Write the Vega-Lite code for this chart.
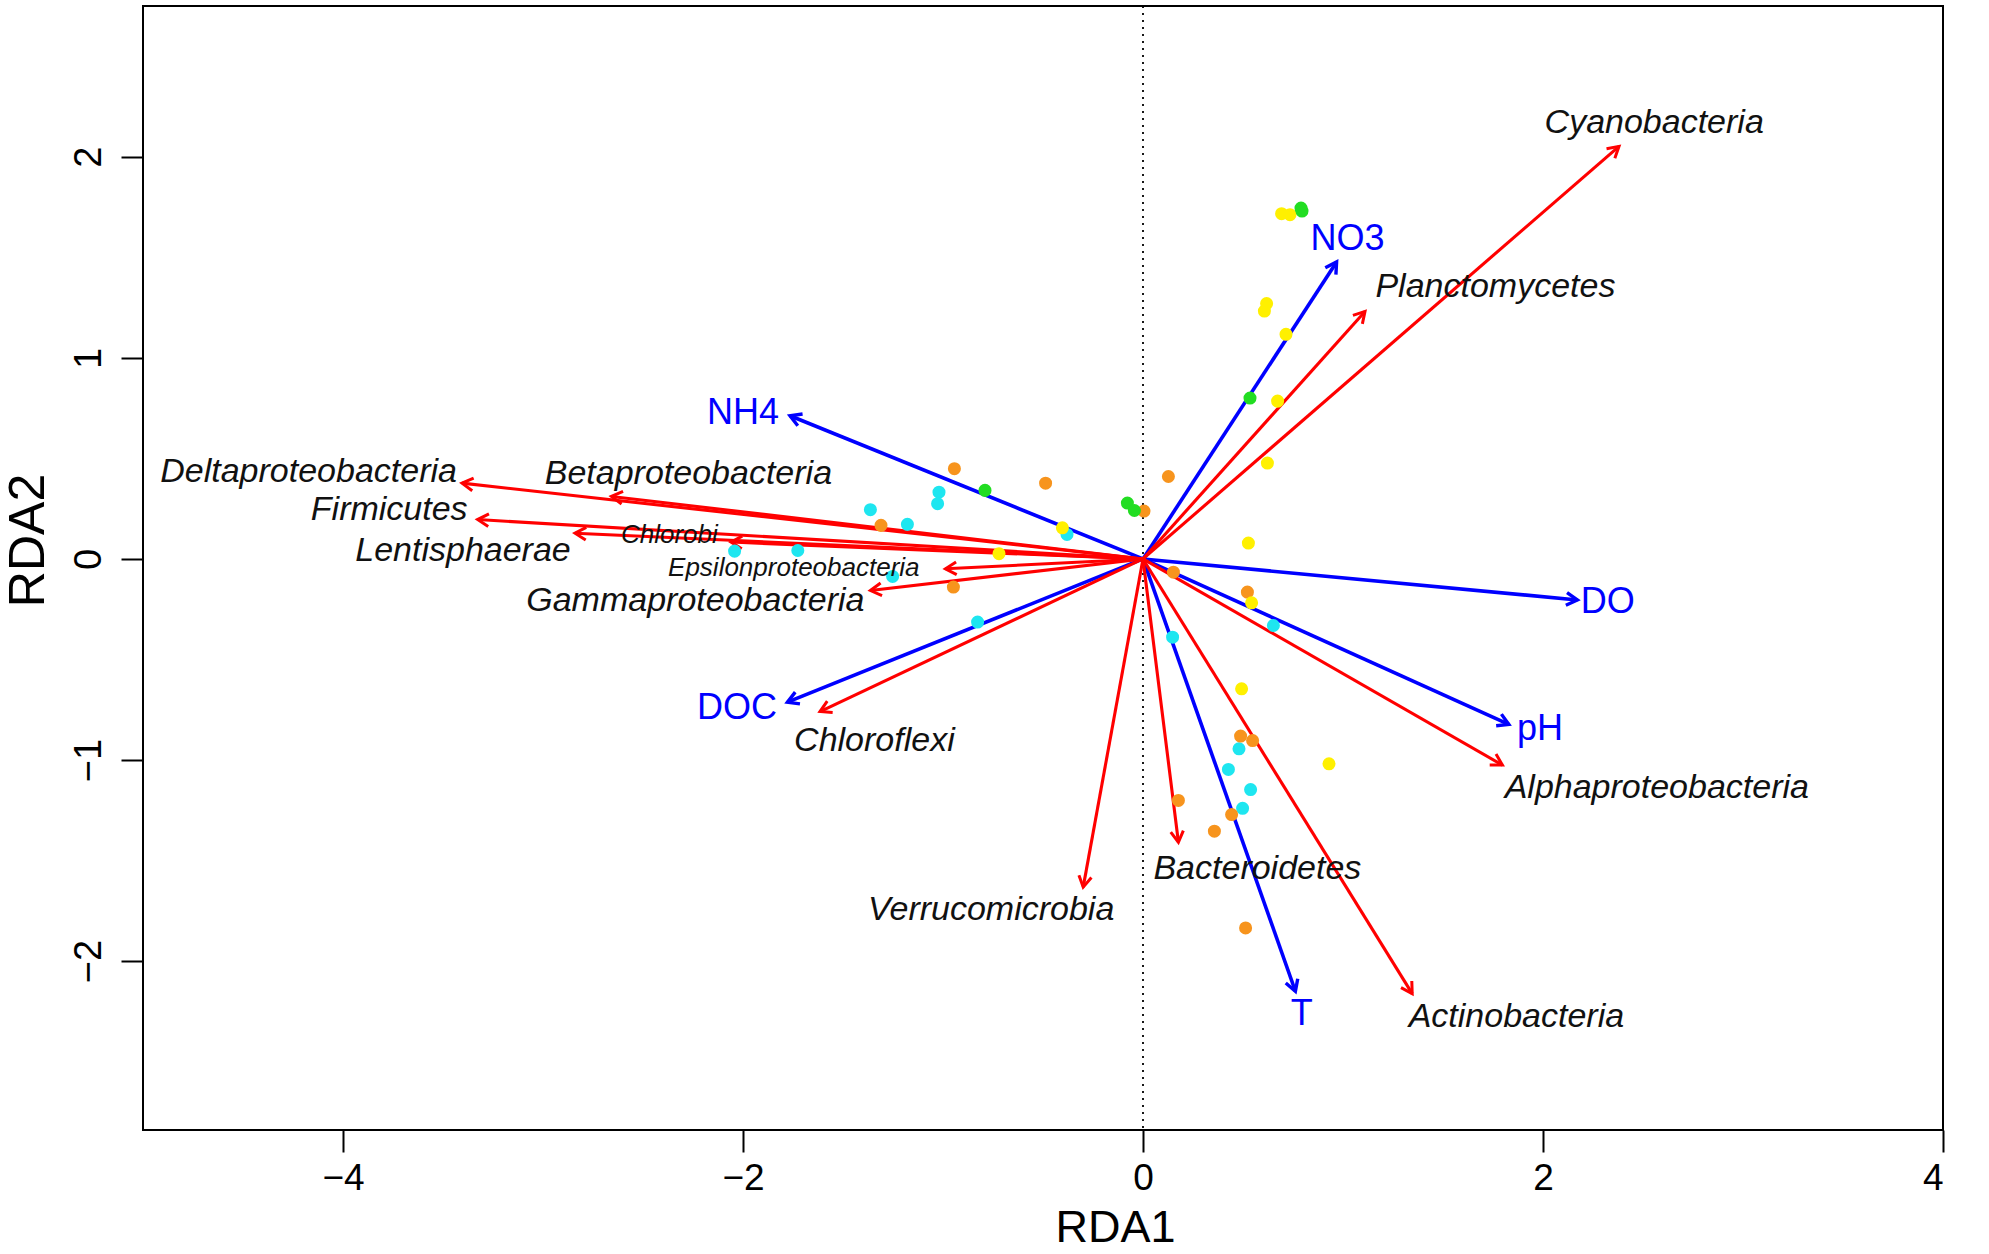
{
  "$schema": "https://vega.github.io/schema/vega-lite/v6.json",
  "width": 1800,
  "height": 1124,
  "autosize": {"type": "none"},
  "padding": {"left": 143, "top": 6, "right": 46, "bottom": 124},
  "background": "white",
  "config": {
    "view": {"stroke": "black", "strokeWidth": 2},
    "font": "Liberation Sans",
    "text": {"font": "Liberation Sans"},
    "axisX": {
      "grid": false, "domain": false,
      "tickSize": 22, "tickWidth": 2, "tickColor": "black",
      "labelFontSize": 37, "labelColor": "black", "labelPadding": 8, "labelFont": "Liberation Sans",
      "titleFontSize": 45, "titleFontWeight": "normal", "titleColor": "black", "titleFont": "Liberation Sans",
      "titleX": 972, "titleY": 111, "titleAlign": "center", "titleBaseline": "alphabetic"
    },
    "axisY": {
      "grid": false, "domain": false,
      "tickSize": 22, "tickWidth": 2, "tickColor": "black",
      "labelAngle": -90, "labelAlign": "center", "labelBaseline": "bottom",
      "labelFontSize": 38, "labelColor": "black", "labelPadding": 13, "labelFont": "Liberation Sans",
      "titleFontSize": 50, "titleFontWeight": "normal", "titleColor": "black", "titleFont": "Liberation Sans",
      "titlePadding": 17, "titleY": 534, "titleAlign": "center"
    }
  },
  "datasets": {
    "arrows": [
      {"name": "NH4", "type": "env", "x": -1.765, "y": 0.712, "lx": -2.0, "ly": 0.725},
      {"name": "DOC", "type": "env", "x": -1.778, "y": -0.712, "lx": -2.03, "ly": -0.741},
      {"name": "NO3", "type": "env", "x": 0.968, "y": 1.477, "lx": 1.022, "ly": 1.59},
      {"name": "DO", "type": "env", "x": 2.172, "y": -0.204, "lx": 2.324, "ly": -0.216},
      {"name": "pH", "type": "env", "x": 1.829, "y": -0.823, "lx": 1.985, "ly": -0.845},
      {"name": "T", "type": "env", "x": 0.762, "y": -2.15, "lx": 0.794, "ly": -2.264},
      {"name": "Cyanobacteria", "type": "taxon", "x": 2.38, "y": 2.052, "lx": 2.556, "ly": 2.166},
      {"name": "Planctomycetes", "type": "taxon", "x": 1.11, "y": 1.231, "lx": 1.762, "ly": 1.351},
      {"name": "Alphaproteobacteria", "type": "taxon", "x": 1.797, "y": -1.025, "lx": 2.569, "ly": -1.139},
      {"name": "Actinobacteria", "type": "taxon", "x": 1.346, "y": -2.162, "lx": 1.867, "ly": -2.276},
      {"name": "Bacteroidetes", "type": "taxon", "x": 0.177, "y": -1.409, "lx": 0.572, "ly": -1.543},
      {"name": "Verrucomicrobia", "type": "taxon", "x": -0.299, "y": -1.632, "lx": -0.759, "ly": -1.745},
      {"name": "Chloroflexi", "type": "taxon", "x": -1.615, "y": -0.759, "lx": -1.343, "ly": -0.905},
      {"name": "Gammaproteobacteria", "type": "taxon", "x": -1.363, "y": -0.157, "lx": -2.238, "ly": -0.21},
      {"name": "Epsilonproteobacteria", "type": "taxon", "x": -0.988, "y": -0.049, "lx": -1.746, "ly": -0.046},
      {"name": "Chlorobi", "type": "taxon", "x": -2.06, "y": 0.084, "lx": -2.368, "ly": 0.118},
      {"name": "Lentisphaerae", "type": "taxon", "x": -2.84, "y": 0.128, "lx": -3.4, "ly": 0.042},
      {"name": "Firmicutes", "type": "taxon", "x": -3.327, "y": 0.196, "lx": -3.769, "ly": 0.245},
      {"name": "Betaproteobacteria", "type": "taxon", "x": -2.658, "y": 0.311, "lx": -2.273, "ly": 0.422},
      {"name": "Deltaproteobacteria", "type": "taxon", "x": -3.405, "y": 0.377, "lx": -4.172, "ly": 0.434}
    ],
    "sites": [
      {"g": "cyan", "x": -2.042, "y": 0.039},
      {"g": "cyan", "x": -1.726, "y": 0.042},
      {"g": "cyan", "x": -1.363, "y": 0.245},
      {"g": "cyan", "x": -1.02, "y": 0.332},
      {"g": "cyan", "x": -1.027, "y": 0.275},
      {"g": "cyan", "x": -1.178, "y": 0.172},
      {"g": "cyan", "x": -0.38, "y": 0.122},
      {"g": "cyan", "x": -1.252, "y": -0.087},
      {"g": "cyan", "x": -0.827, "y": -0.314},
      {"g": "cyan", "x": 0.148, "y": -0.389},
      {"g": "cyan", "x": 0.652, "y": -0.331},
      {"g": "cyan", "x": 0.48, "y": -0.944},
      {"g": "cyan", "x": 0.427, "y": -1.047},
      {"g": "cyan", "x": 0.538, "y": -1.147},
      {"g": "cyan", "x": 0.498, "y": -1.24},
      {"g": "orange", "x": -0.943, "y": 0.449},
      {"g": "orange", "x": -0.487, "y": 0.377},
      {"g": "orange", "x": 0.127, "y": 0.41},
      {"g": "orange", "x": 0.005, "y": 0.238},
      {"g": "orange", "x": -1.31, "y": 0.167},
      {"g": "orange", "x": -0.948, "y": -0.14},
      {"g": "orange", "x": 0.152, "y": -0.066},
      {"g": "orange", "x": 0.522, "y": -0.165},
      {"g": "orange", "x": 0.488, "y": -0.881},
      {"g": "orange", "x": 0.548, "y": -0.903},
      {"g": "orange", "x": 0.177, "y": -1.201},
      {"g": "orange", "x": 0.443, "y": -1.271},
      {"g": "orange", "x": 0.357, "y": -1.354},
      {"g": "orange", "x": 0.513, "y": -1.835},
      {"g": "yellow", "x": 0.693, "y": 1.717},
      {"g": "yellow", "x": 0.735, "y": 1.712},
      {"g": "yellow", "x": 0.618, "y": 1.27},
      {"g": "yellow", "x": 0.607, "y": 1.233},
      {"g": "yellow", "x": 0.715, "y": 1.117},
      {"g": "yellow", "x": 0.673, "y": 0.785},
      {"g": "yellow", "x": 0.622, "y": 0.477},
      {"g": "yellow", "x": -0.403, "y": 0.155},
      {"g": "yellow", "x": -0.72, "y": 0.026},
      {"g": "yellow", "x": 0.527, "y": 0.079},
      {"g": "yellow", "x": 0.543, "y": -0.218},
      {"g": "yellow", "x": 0.493, "y": -0.646},
      {"g": "yellow", "x": 0.93, "y": -1.019},
      {"g": "green", "x": 0.79, "y": 1.745},
      {"g": "green", "x": 0.795, "y": 1.73},
      {"g": "green", "x": 0.535, "y": 0.8},
      {"g": "green", "x": -0.79, "y": 0.341},
      {"g": "green", "x": -0.078, "y": 0.278},
      {"g": "green", "x": -0.043, "y": 0.241}
    ]
  },
  "layer": [
    {
      "data": {"values": [{"v": 0}]},
      "mark": {"type": "rule", "strokeDash": [2, 5], "strokeWidth": 1.8, "color": "black"},
      "encoding": {
        "x": {"field": "v", "type": "quantitative", "title": "RDA1", "axis": {"values": [-4, -2, 0, 2, 4]}, "scale": {"domain": [-5, 4], "nice": false, "zero": false}}
      }
    },
    {
      "data": {"name": "arrows"},
      "mark": {"type": "rule", "strokeCap": "butt"},
      "encoding": {
        "x": {"field": "x", "type": "quantitative", "title": "RDA1", "axis": {"values": [-4, -2, 0, 2, 4]}, "scale": {"domain": [-5, 4], "nice": false, "zero": false}},
        "y": {"field": "y", "type": "quantitative", "title": "RDA2", "axis": {"values": [-2, -1, 0, 1, 2]}, "scale": {"domain": [-2.84, 2.75], "nice": false, "zero": false}},
        "x2": {"datum": 0},
        "y2": {"datum": 0},
        "stroke": {"field": "type", "type": "nominal", "scale": {"domain": ["env", "taxon"], "range": ["#0000FF", "#FF0000"]}, "legend": null},
        "strokeWidth": {"condition": {"test": "datum.type === 'env'", "value": 3.6}, "value": 3.1}
      }
    },
    {
      "data": {"name": "arrows"},
      "transform": [{"calculate": "atan2(-datum.y * 201, datum.x * 200) * 180 / PI", "as": "ang"}],
      "mark": {"type": "point", "shape": "M -1 -0.577 L 0 0 L -1 0.577", "filled": false, "size": 484, "opacity": 1},
      "encoding": {
        "x": {"field": "x", "type": "quantitative", "title": "RDA1", "axis": {"values": [-4, -2, 0, 2, 4]}},
        "y": {"field": "y", "type": "quantitative", "title": "RDA2", "axis": {"values": [-2, -1, 0, 1, 2]}},
        "angle": {"field": "ang", "type": "quantitative", "scale": null},
        "stroke": {"field": "type", "type": "nominal", "scale": {"domain": ["env", "taxon"], "range": ["#0000FF", "#FF0000"]}, "legend": null},
        "strokeWidth": {"condition": {"test": "datum.type === 'env'", "value": 3.4}, "value": 3.0}
      }
    },
    {
      "data": {"name": "sites"},
      "mark": {"type": "circle", "size": 170, "opacity": 1},
      "encoding": {
        "x": {"field": "x", "type": "quantitative", "title": "RDA1", "axis": {"values": [-4, -2, 0, 2, 4]}},
        "y": {"field": "y", "type": "quantitative", "title": "RDA2", "axis": {"values": [-2, -1, 0, 1, 2]}},
        "fill": {"field": "g", "type": "nominal", "scale": {"domain": ["cyan", "orange", "yellow", "green"], "range": ["#1EE6F0", "#F7941D", "#FFF000", "#22DD22"]}, "legend": null}
      }
    },
    {
      "data": {"name": "arrows"},
      "transform": [{"filter": "datum.type === 'env'"}],
      "mark": {"type": "text", "fontSize": 36, "color": "#0000FF", "align": "center", "baseline": "middle"},
      "encoding": {
        "x": {"field": "lx", "type": "quantitative", "title": "RDA1", "axis": {"values": [-4, -2, 0, 2, 4]}},
        "y": {"field": "ly", "type": "quantitative", "title": "RDA2", "axis": {"values": [-2, -1, 0, 1, 2]}},
        "text": {"field": "name"}
      }
    },
    {
      "data": {"name": "arrows"},
      "transform": [{"filter": "datum.type === 'taxon' && datum.name !== 'Chlorobi' && datum.name !== 'Epsilonproteobacteria'"}],
      "mark": {"type": "text", "fontSize": 34, "fontStyle": "italic", "color": "#111111", "align": "center", "baseline": "middle"},
      "encoding": {
        "x": {"field": "lx", "type": "quantitative", "title": "RDA1", "axis": {"values": [-4, -2, 0, 2, 4]}},
        "y": {"field": "ly", "type": "quantitative", "title": "RDA2", "axis": {"values": [-2, -1, 0, 1, 2]}},
        "text": {"field": "name"}
      }
    },
    {
      "data": {"name": "arrows"},
      "transform": [{"filter": "datum.name === 'Chlorobi' || datum.name === 'Epsilonproteobacteria'"}],
      "mark": {"type": "text", "fontSize": 26, "fontStyle": "italic", "color": "#111111", "align": "center", "baseline": "middle"},
      "encoding": {
        "x": {"field": "lx", "type": "quantitative", "title": "RDA1", "axis": {"values": [-4, -2, 0, 2, 4]}},
        "y": {"field": "ly", "type": "quantitative", "title": "RDA2", "axis": {"values": [-2, -1, 0, 1, 2]}},
        "text": {"field": "name"}
      }
    }
  ]
}
